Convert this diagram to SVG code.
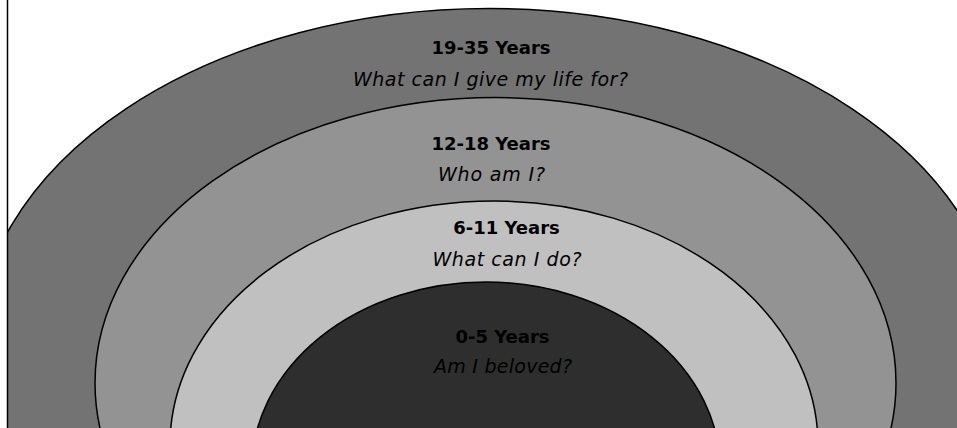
<svg xmlns="http://www.w3.org/2000/svg" width="957" height="428" viewBox="0 0 957 428">
  <defs>
    <clipPath id="frame">
      <rect x="8" y="0" width="960" height="428"/>
    </clipPath>
  </defs>
  <style>
    .ring { stroke: #000; stroke-width: 1.5; }
    .title { font-family: "DejaVu Sans", "Liberation Sans", sans-serif; font-weight: bold; font-size: 18px; fill: #000; text-anchor: middle; }
    .q { font-family: "DejaVu Sans", "Liberation Sans", sans-serif; font-style: italic; font-size: 19px; fill: #000; text-anchor: middle; }
  </style>
  <rect x="0" y="0" width="957" height="428" fill="#fff"/>
  <g clip-path="url(#frame)">
    <g id="ring-19-35">
      <ellipse class="ring" cx="489" cy="350" rx="513" ry="341.5" fill="#737373"/>
      <text class="title" x="491" y="54">19-35 Years</text>
      <text class="q" x="490.5" y="86" textLength="275" lengthAdjust="spacing">What can I give my life for?</text>
    </g>
    <g id="ring-12-18">
      <ellipse class="ring" cx="495.5" cy="383" rx="400.5" ry="285.5" fill="#939393"/>
      <text class="title" x="491" y="150">12-18 Years</text>
      <text class="q" x="491.5" y="181" textLength="107" lengthAdjust="spacing">Who am I?</text>
    </g>
    <g id="ring-6-11">
      <ellipse class="ring" cx="494" cy="445" rx="324" ry="244" fill="#c0c0c0"/>
      <text class="title" x="506.5" y="234">6-11 Years</text>
      <text class="q" x="507" y="265.5" textLength="149" lengthAdjust="spacing">What can I do?</text>
    </g>
    <g id="ring-0-5">
      <ellipse class="ring" cx="486" cy="470" rx="234.4" ry="188" fill="#2e2e2e"/>
      <text class="title" x="502.5" y="343">0-5 Years</text>
      <text class="q" x="503" y="372.5" textLength="138" lengthAdjust="spacing">Am I beloved?</text>
    </g>
  </g>
  <g id="connectors"></g>
  <line x1="7.5" y1="0" x2="7.5" y2="428" stroke="#000" stroke-width="1.5"/>
</svg>
